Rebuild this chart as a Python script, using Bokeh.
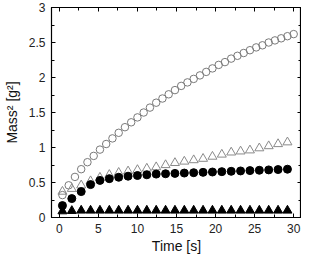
from bokeh.plotting import figure
from bokeh.models import LinearAxis, SingleIntervalTicker, Range1d
from bokeh.embed import file_html
from bokeh.resources import INLINE

# ---- data ----
t_open_circ = [0.4 + 0.8 * k for k in range(38)]
open_circ = [0.32, 0.46, 0.58, 0.69, 0.79, 0.88, 0.97, 1.05, 1.13, 1.21,
             1.29, 1.36, 1.43, 1.50, 1.57, 1.64, 1.70, 1.76, 1.82, 1.88,
             1.93, 1.98, 2.03, 2.08, 2.13, 2.18, 2.22, 2.27, 2.31, 2.35,
             2.39, 2.43, 2.46, 2.50, 2.53, 2.56, 2.59, 2.62]

t_other = [0.4 + 1.2 * k for k in range(25)]
open_tri = [0.37, 0.41, 0.46, 0.52, 0.57, 0.61, 0.64, 0.66, 0.68, 0.70,
            0.72, 0.75, 0.78, 0.80, 0.82, 0.84, 0.87, 0.90, 0.93, 0.945,
            0.96, 0.99, 1.02, 1.05, 1.075]
filled_circ = [0.17, 0.27, 0.37, 0.47, 0.53, 0.555, 0.575, 0.59, 0.60, 0.61,
               0.62, 0.625, 0.63, 0.635, 0.64, 0.645, 0.65, 0.655, 0.66, 0.665,
               0.67, 0.675, 0.68, 0.685, 0.69]
filled_tri = [0.09, 0.095, 0.1, 0.1, 0.1, 0.1, 0.1, 0.1, 0.1, 0.1,
              0.1, 0.1, 0.1, 0.1, 0.1, 0.1, 0.1, 0.1, 0.1, 0.1,
              0.1, 0.1, 0.1, 0.1, 0.1]

x_label = "Time [s]"
y_label = "Mass\u00b2 [g\u00b2]"

FONT = "Liberation Sans"

p = figure(width=301, height=256, output_backend="svg", toolbar_location=None,
           x_range=Range1d(-1, 31), y_range=Range1d(0, 3),
           min_border_left=37, min_border_right=0, min_border_top=7,
           min_border_bottom=30, x_axis_label=x_label, y_axis_label=y_label)

bottom = p.below[0]
left = p.left[0]

p.grid.visible = False
p.outline_line_color = "black"
p.outline_line_width = 1.2
p.background_fill_color = "white"
p.border_fill_color = "white"

bottom.ticker = SingleIntervalTicker(interval=5, num_minor_ticks=2)
left.ticker = SingleIntervalTicker(interval=0.5, num_minor_ticks=2)

top = LinearAxis(ticker=SingleIntervalTicker(interval=5, num_minor_ticks=2))
right = LinearAxis(ticker=SingleIntervalTicker(interval=0.5, num_minor_ticks=2))
p.add_layout(top, "above")
p.add_layout(right, "right")

for ax in [bottom, left, top, right]:
    ax.axis_line_color = "black"
    ax.major_tick_line_color = "black"
    ax.minor_tick_line_color = "black"
    ax.major_tick_in = 4
    ax.major_tick_out = 0
    ax.minor_tick_in = 3
    ax.minor_tick_out = 0
    ax.major_label_text_font = FONT
    ax.major_label_text_font_size = "12px"
    ax.major_label_text_color = "#222222"
    ax.axis_label_text_font = FONT
    ax.axis_label_text_font_size = "14px"
    ax.axis_label_text_font_style = "normal"
    ax.axis_label_text_color = "#111111"

for ax in [top, right]:
    ax.major_label_text_color = None
    ax.major_label_text_font_size = "1px"
    ax.major_label_standoff = 0

bottom.major_label_standoff = 6
bottom.axis_label_standoff = 2
left.major_label_standoff = 6
left.axis_label_standoff = 6

p.scatter(t_open_circ, open_circ, marker="circle", size=7.5,
          fill_color=None, line_color="#7a7a7a", line_width=1)
p.scatter(t_other, open_tri, marker="triangle", size=9,
          fill_color=None, line_color="#8a8a8a", line_width=1)
p.scatter(t_other, filled_circ, marker="circle", size=8,
          fill_color="black", line_color="black")
p.scatter(t_other, filled_tri, marker="triangle", size=9,
          fill_color="black", line_color="black")

open("out.html", "w").write(file_html(p, INLINE))
